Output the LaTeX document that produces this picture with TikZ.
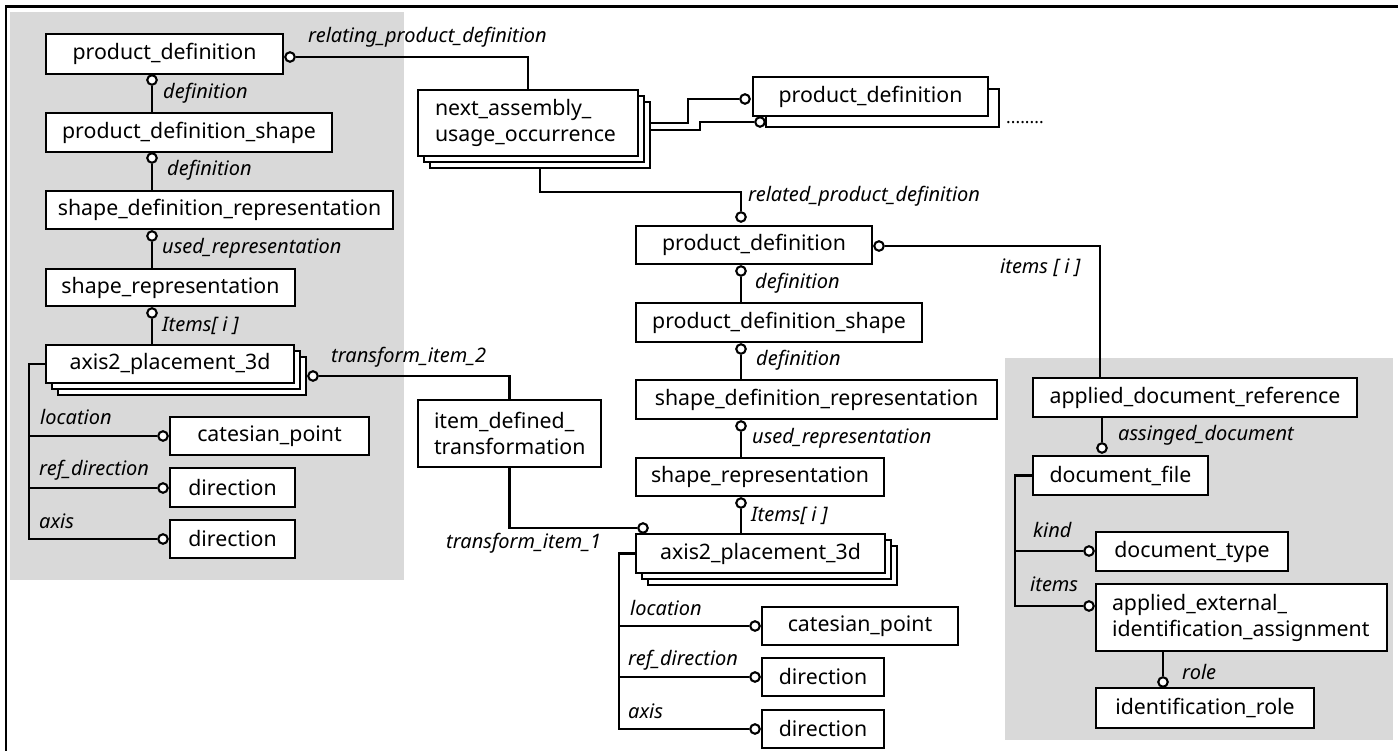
\documentclass[tikz,border=0pt]{standalone}
\usepackage{fontspec}
\setmainfont{Noto Sans}
\usetikzlibrary{calc}
\definecolor{panelgray}{RGB}{217,217,217}
\pgfdeclarelayer{back}
\pgfdeclarelayer{wires}
\pgfsetlayers{back,wires,main}
\newcommand\boxfont{\fontsize{21.3}{26}\selectfont}
\newcommand\labfont{\fontsize{20}{22}\selectfont\itshape}
\newcommand\ebox[7][]{\node[ebox,minimum width={(#5)-(#3)},minimum height={(#6)-(#4)},#1] (#2) at ({((#3)+(#5))/2},{((#4)+(#6))/2}) {#7};}
\tikzset{
  ebox/.style={draw, fill=white, line width=2.5pt, inner sep=0pt, font=\boxfont},
  stk/.style={draw, fill=white, line width=2.5pt},
  conn/.style={line width=2.3pt},
  ring/.style={circle, draw, fill=white, line width=2.1pt, minimum size=9.5pt, inner sep=0pt},
  lab/.style={font=\labfont, anchor=west, inner sep=0pt},
}
\begin{document}
\begin{tikzpicture}[x=1pt,y=-1pt]
\useasboundingbox (0,0) rectangle (1398,751);
\begin{pgfonlayer}{back}
  \fill[white] (0,0) rectangle (1398,751);
  \fill[panelgray] (10,12) rectangle (404,580);
  \fill[panelgray] (1005,358) rectangle (1393,740);
  \draw[line width=2.5pt] (6,751) -- (6,6.3) -- (1398,6.3);
\end{pgfonlayer}

% ---- left panel
\ebox{pdL}{46}{34}{283}{74}{product\_definition}
\ebox{pdsL}{46}{113}{332}{152}{product\_definition\_shape}
\ebox{sdrL}{46}{191}{393}{229}{shape\_definition\_representation}
\ebox{srL}{46}{269}{295}{306}{shape\_representation}
\draw[stk] (58,357) rectangle (306,395);
\draw[stk] (52,351) rectangle (300,389);
\ebox{a2pL}{46}{345}{294}{383}{axis2\_placement\_3d}
\ebox{cpL}{170}{417}{369}{455}{catesian\_point}
\ebox{dirAL}{170}{468}{295}{507}{direction}
\ebox{dirBL}{170}{520}{295}{558}{direction}

% ---- middle
\draw[stk] (430,102) rectangle (650,168);
\draw[stk] (424,96) rectangle (644,162);
\ebox[align=left,text width=186pt]{nauo}{418}{90}{638}{156}{next\_assembly\_\\usage\_occurrence}
\draw[stk] (766,89) rectangle (999,127);
\ebox{pdT}{753}{77}{988}{116}{product\_definition}
\ebox[align=left,text width=151pt]{idt}{418}{400}{601}{467}{item\_defined\_\\transformation}
\ebox{pdM}{636}{226}{872}{264}{product\_definition}
\ebox{pdsM}{636}{303}{922}{342}{product\_definition\_shape}
\ebox{sdrM}{636}{380}{997}{419}{shape\_definition\_representation}
\ebox{srM}{636}{458}{884}{496}{shape\_representation}
\draw[stk] (648,546) rectangle (897,585);
\draw[stk] (642,540) rectangle (891,579);
\ebox{a2pM}{636}{534}{885}{573}{axis2\_placement\_3d}
\ebox{cpM}{762}{607}{958}{645}{catesian\_point}
\ebox{dirAM}{762}{658}{884}{696}{direction}
\ebox{dirBM}{762}{710}{884}{748}{direction}

% ---- right panel
\ebox{adr}{1033}{378}{1357}{417}{applied\_document\_reference}
\ebox{df}{1033}{456}{1208}{495}{document\_file}
\ebox{dt}{1096}{532}{1288}{571}{document\_type}
\ebox[align=left,text width=259pt]{aeia}{1096}{584}{1387}{651}{applied\_external\_\\identification\_assignment}
\ebox{ir}{1096}{688}{1314}{728}{identification\_role}

% ---- circles
\node[ring] (pdLr) at (290,57) {};
\node[ring] (pdLb) at (152,80) {};
\node[ring] (pdsLb) at (152,158) {};
\node[ring] (sdrLb) at (152,236) {};
\node[ring] (srLb) at (152,313) {};
\node[ring] (a2pLr) at (313,376) {};
\node[ring] (cpLc) at (163,436) {};
\node[ring] (dirALc) at (163,488) {};
\node[ring] (dirBLc) at (163,539) {};
\node[ring] (pdTa) at (745,99) {};
\node[ring] (pdTb) at (760,122) {};
\node[ring] (pdMt) at (741,217) {};
\node[ring] (pdMr) at (879,246) {};
\node[ring] (pdMb) at (741,271) {};
\node[ring] (pdsMb) at (741,349) {};
\node[ring] (sdrMb) at (741,426) {};
\node[ring] (srMb) at (741,503) {};
\node[ring] (a2pMt) at (643,528) {};
\node[ring] (cpMc) at (755,626) {};
\node[ring] (dirAMc) at (755,677) {};
\node[ring] (dirBMc) at (755,729) {};
\node[ring] (adrb) at (1102,448) {};
\node[ring] (dtc) at (1089,551) {};
\node[ring] (aeiac) at (1089,606) {};
\node[ring] (aeiab) at (1163,682) {};

\coordinate (spL) at (29,0);
\coordinate (spM) at (619,0);
\coordinate (spR) at (1015,0);

% ---- connectors
\begin{pgfonlayer}{wires}
\draw[conn] (pdLr) -| (nauo.north);
\draw[conn] (pdLb) -- (pdLb |- pdsL.north);
\draw[conn] (pdsLb) -- (pdsLb |- sdrL.north);
\draw[conn] (sdrLb) -- (sdrLb |- srL.north);
\draw[conn] (srLb) -- (srLb |- a2pL.north);
\draw[conn] (a2pLr) -| (idt.north);
\draw[conn] (a2pL.west) -| (spL |- dirBLc) -- (dirBLc);
\draw[conn] (spL |- cpLc) -- (cpLc);
\draw[conn] (spL |- dirALc) -- (dirALc);

\draw[conn] (nauo.east) -| ([xshift=-57pt]pdTa.center) -- (pdTa);
\draw[conn] ([yshift=-7pt]nauo.east) -| ([xshift=-60pt]pdTb.center) -- (pdTb);
\draw[conn] ([xshift=12pt]nauo.south) |- ([yshift=25pt]pdMt.center) -- (pdMt);
\draw[conn] (pdMr) -| ([xshift=-95pt]adr.north);
\draw[conn] (pdMb) -- (pdMb |- pdsM.north);
\draw[conn] (pdsMb) -- (pdsMb |- sdrM.north);
\draw[conn] (sdrMb) -- (sdrMb |- srM.north);
\draw[conn] (srMb) -- (srMb |- a2pM.north);
\draw[conn] (idt.south) |- (a2pMt);
\draw[conn] (a2pM.west) -| (spM |- dirBMc) -- (dirBMc);
\draw[conn] (spM |- cpMc) -- (cpMc);
\draw[conn] (spM |- dirAMc) -- (dirAMc);

\draw[conn] (adr.south -| adrb) -- (adrb);
\draw[conn] (df.west) -| (spR |- aeiac) -- (aeiac);
\draw[conn] (spR |- dtc) -- (dtc);
\draw[conn] (aeia.south -| aeiab) -- (aeiab);
\end{pgfonlayer}

% ---- labels
\node[lab] (l1) at (308,37) {relating\_product\_definition};
\node[lab] (l2) at (163,93) {definition};
\node[lab] (l3) at (167,170) {definition};
\node[lab] (l4) at (162,248) {used\_representation};
\node[lab] (l5) at (162,326) {Items[ i ]};
\node[lab] (l6) at (331,357) {transform\_item\_2};
\node[lab] (l7) at (40,417) {location};
\node[lab] (l8) at (39,470) {ref\_direction};
\node[lab] (l9) at (39,521) {axis};
\node[lab] (m1) at (748,196) {related\_product\_definition};
\node[lab] (m2) at (1000,268) {items [ i ]};
\node[lab] (m3) at (755,283) {definition};
\node[lab] (m4) at (756,360) {definition};
\node[lab] (m5) at (752,438) {used\_representation};
\node[lab] (m6) at (751,516) {Items[ i ]};
\node[lab] (m7) at (446,543) {transform\_item\_1};
\node[lab] (m8) at (630,608) {location};
\node[lab] (m9) at (628,660) {ref\_direction};
\node[lab] (m10) at (628,711) {axis};
\node[lab,font=\fontsize{17.5}{20}\selectfont] (dots) at (1006,123) {........};
\node[lab] (r1) at (1118,435) {assinged\_document};
\node[lab] (r2) at (1033,530) {kind};
\node[lab] (r3) at (1030,584) {items};
\node[lab] (r4) at (1182,672) {role};
\end{tikzpicture}
\end{document}
